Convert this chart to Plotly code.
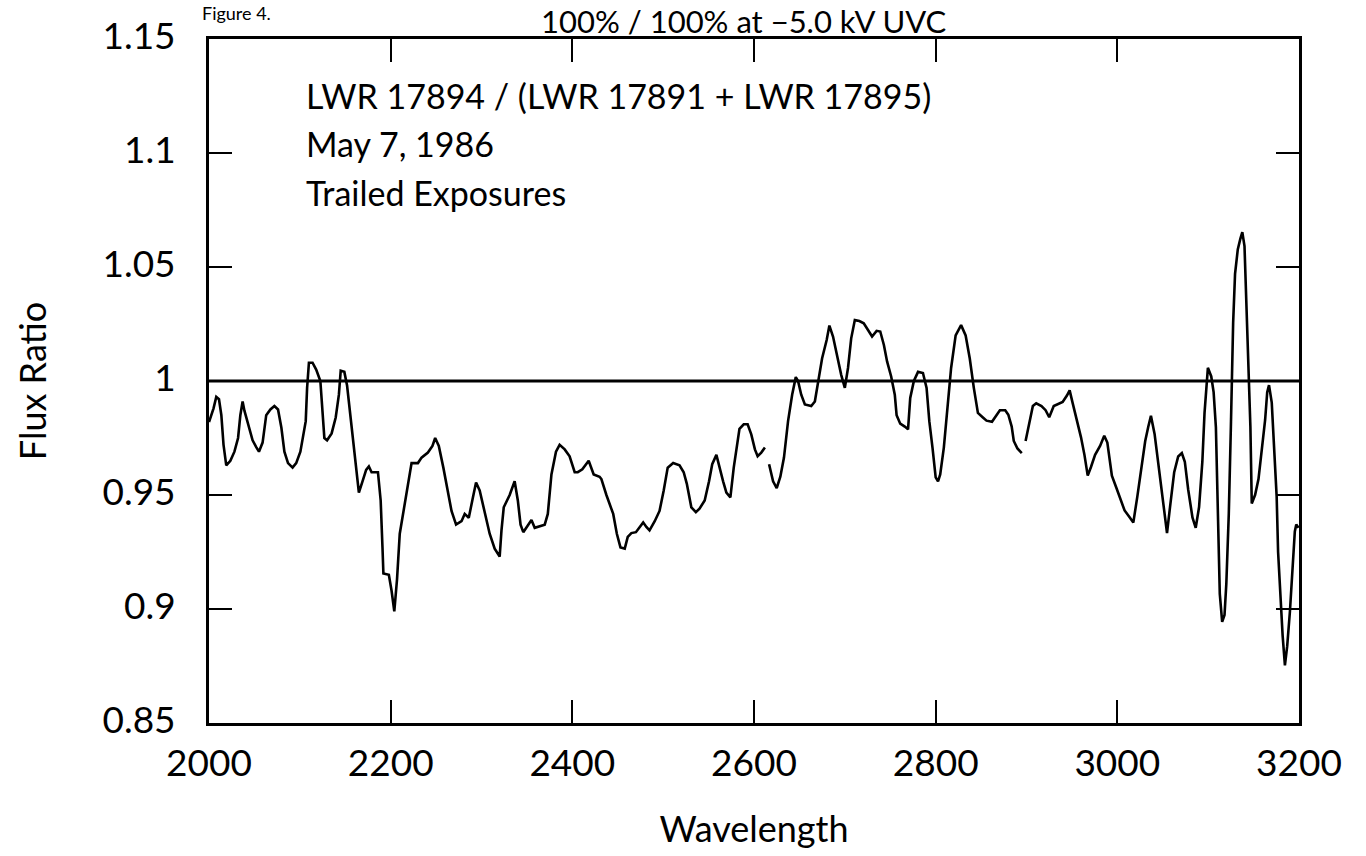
import plotly.graph_objects as go

# ---------------- data ----------------
wavelength = [
    2000, 2005, 2008, 2011, 2013.6, 2016, 2019, 2023.5, 2028, 2032, 2034.5, 2037, 2039, 2043, 2048,
    2052, 2055, 2059, 2063, 2067.6, 2072, 2076, 2079.7, 2083, 2087, 2092, 2096, 2100.6, 2104, 2106.5,
    2108, 2110, 2114, 2118, 2122.6, 2125, 2127, 2130, 2135, 2139.5, 2143, 2145, 2149, 2152, 2155.7,
    2159, 2162, 2165, 2169, 2173, 2176, 2179, 2186, 2189, 2191, 2192, 2198, 2201, 2204, 2207,
    2210, 2214, 2219, 2223, 2230, 2234, 2241, 2246, 2249, 2253, 2258, 2262, 2267, 2272, 2278,
    2281.5, 2286, 2290.6, 2294, 2298, 2303.5, 2309, 2314.5, 2320, 2322, 2324.5, 2331, 2336.5, 2340, 2343,
    2346, 2351, 2355, 2358.6, 2369.6, 2373, 2377, 2382, 2386, 2391.6, 2397, 2402.6, 2406, 2411, 2418,
    2423.5, 2430, 2432, 2437.5, 2445, 2449, 2453, 2457.7, 2461, 2465, 2470, 2474, 2478, 2481.5, 2485,
    2490.7, 2496, 2500.6, 2505, 2511, 2518, 2522.6, 2526, 2531, 2536, 2540, 2545.7, 2550.5, 2554, 2558.6,
    2562, 2566, 2569.6, 2574, 2577.7, 2580.6, 2584, 2588.7, 2593, 2597, 2601, 2604, 2608, 2612, 2614,
    2616.6, 2621, 2625, 2629, 2633, 2637.5, 2642, 2646, 2648.5, 2652, 2656, 2663, 2667, 2670.5, 2675,
    2680, 2683, 2687, 2691, 2696, 2700, 2703.5, 2707, 2711, 2716, 2720.8, 2725.5, 2730, 2735, 2739,
    2743, 2746.5, 2751, 2755, 2757, 2761, 2766, 2769.6, 2772, 2776, 2780.6, 2786, 2790, 2793, 2796.5,
    2800, 2802.6, 2805, 2809, 2813.6, 2817, 2822, 2828, 2833, 2837.5, 2842, 2846.5, 2852, 2856, 2862,
    2866, 2870.7, 2876.6, 2880, 2883.7, 2886, 2890, 2894.8, 2897, 2899, 2902.7, 2907, 2910.7, 2916.5, 2921,
    2925, 2930, 2934.7, 2939.8, 2944.5, 2947.5, 2950.7, 2955.4, 2960, 2963.8, 2967.4, 2971, 2975.5, 2981, 2985.6,
    2989, 2994, 2999, 3003.7, 3008, 3013.5, 3017.6, 3022, 3026, 3030.7, 3034, 3037, 3041, 3045, 3050,
    3054.7, 3058, 3062.6, 3067, 3071, 3074.3, 3078, 3082.7, 3086.3, 3090, 3093.6, 3096, 3099.7, 3103.4, 3106,
    3108.5, 3110.7, 3112.8, 3115.4, 3118, 3120, 3122.7, 3125, 3127.5, 3129.6, 3132.6, 3135.4, 3137.6, 3140, 3142,
    3144.6, 3146.5, 3148, 3151.7, 3155.4, 3159, 3162.7, 3165, 3167, 3170, 3172.5, 3175.4, 3177, 3179.8, 3182,
    3184.5, 3187, 3190, 3192.8, 3195.4, 3197, 3199.5,
]
flux_ratio = [
    0.982, 0.988, 0.993, 0.992, 0.985, 0.972, 0.963, 0.965, 0.969, 0.975, 0.985, 0.991, 0.987, 0.981, 0.974,
    0.971, 0.969, 0.973, 0.985, 0.9875, 0.989, 0.9875, 0.9795, 0.969, 0.964, 0.962, 0.964, 0.969, 0.9766, 0.9824,
    0.997, 1.008, 1.008, 1.005, 1.0, 0.988, 0.975, 0.974, 0.977, 0.984, 0.994, 1.0045, 1.004, 0.998, 0.985,
    0.974, 0.962, 0.951, 0.956, 0.961, 0.9625, 0.960, 0.960, 0.9476, 0.927, 0.9156, 0.915, 0.908, 0.899, 0.913,
    0.933, 0.943, 0.956, 0.964, 0.964, 0.9664, 0.9686, 0.9715, 0.975, 0.9715, 0.962, 0.953, 0.943, 0.937, 0.9385,
    0.9417, 0.940, 0.949, 0.9555, 0.952, 0.943, 0.933, 0.9265, 0.923, 0.9345, 0.9446, 0.950, 0.956, 0.9476, 0.937,
    0.9337, 0.937, 0.939, 0.9356, 0.937, 0.9417, 0.959, 0.969, 0.972, 0.970, 0.967, 0.960, 0.960, 0.9613, 0.965,
    0.959, 0.958, 0.957, 0.950, 0.9417, 0.933, 0.927, 0.9265, 0.9316, 0.9333, 0.9337, 0.936, 0.938, 0.936, 0.9345,
    0.9385, 0.943, 0.952, 0.962, 0.964, 0.963, 0.960, 0.955, 0.9446, 0.9425, 0.944, 0.9476, 0.956, 0.9635, 0.9676,
    0.962, 0.956, 0.951, 0.949, 0.962, 0.9708, 0.979, 0.981, 0.981, 0.9766, 0.970, 0.967, 0.9686, 0.9708, None,
    0.9635, 0.956, 0.953, 0.958, 0.9664, 0.9824, 0.994, 1.0017, 1.0, 0.994, 0.9897, 0.989, 0.991, 1.0, 1.010,
    1.018, 1.0243, 1.0195, 1.0115, 1.0027, 0.997, 1.0057, 1.0187, 1.0267, 1.0263, 1.0253, 1.0224, 1.0195, 1.022, 1.0217,
    1.0158, 1.0086, 1.002, 0.994, 0.985, 0.9813, 0.980, 0.9788, 0.9926, 1.0, 1.004, 1.0035, 0.997, 0.9824, 0.9708,
    0.9577, 0.956, 0.959, 0.9708, 0.9897, 1.0057, 1.020, 1.0245, 1.020, 1.010, 0.997, 0.986, 0.984, 0.9826, 0.9821,
    0.9844, 0.9872, 0.9872, 0.9852, 0.980, 0.9737, 0.9704, 0.9684, None, 0.9737, 0.9814, 0.989, 0.9902, 0.989, 0.9872,
    0.9841, 0.989, 0.9898, 0.9908, 0.9936, 0.9959, 0.9905, 0.983, 0.9753, 0.9676, 0.9585, 0.9623, 0.9676, 0.9715, 0.976,
    0.973, 0.9585, 0.9531, 0.9478, 0.9432, 0.9402, 0.9379, 0.9493, 0.9615, 0.9737, 0.9798, 0.9847, 0.9768, 0.9646, 0.9493,
    0.9333, 0.9447, 0.960, 0.9669, 0.9684, 0.9646, 0.9524, 0.9402, 0.9356, 0.9447, 0.9646, 0.986, 1.0058, 1.002, 0.9951,
    0.9798, 0.9417, 0.9066, 0.8944, 0.8974, 0.9111, 0.9417, 0.9798, 1.0256, 1.047, 1.0577, 1.0623, 1.0653, 1.0592, 1.0333,
    1.0058, 0.9798, 0.9463, 0.9501, 0.957, 0.9692, 0.9829, 0.9951, 0.9982, 0.9905, 0.9722, 0.9493, 0.9249, 0.9035, 0.8882,
    0.8753, 0.8837, 0.8989, 0.9188, 0.934, 0.9371, 0.9356,
]

x_range = [2000, 3200]
y_range = [0.85, 1.15]
x_ticks = [2000, 2200, 2400, 2600, 2800, 3000, 3200]
y_ticks = [0.85, 0.9, 0.95, 1.0, 1.05, 1.1, 1.15]
y_tick_text = ["0.85", "0.9", "0.95", "1", "1.05", "1.1", "1.15"]
reference_level = 1.0

title_text = "100% / 100% at \u22125.0 kV UVC"
figure_label = "Figure 4."
note_lines = ["LWR 17894 / (LWR 17891 + LWR 17895)", "May 7, 1986", "Trailed Exposures"]

FONT = "Lato, 'DejaVu Sans', sans-serif"

fig = go.Figure()
fig.add_trace(go.Scatter(
    x=wavelength, y=flux_ratio, mode="lines",
    line=dict(color="black", width=2.6),
    connectgaps=False, hoverinfo="skip", showlegend=False,
))
fig.add_hline(y=reference_level, line=dict(color="black", width=3))

axis_common = dict(
    showline=True, linecolor="black", linewidth=3, mirror="ticks",
    ticks="inside", ticklen=23, tickwidth=2, tickcolor="black",
    showgrid=False, zeroline=False,
    tickfont=dict(family=FONT, size=37, color="black"),
)
fig.update_xaxes(
    range=x_range, tickvals=x_ticks, ticklabelstandoff=6,
    title=dict(text="Wavelength", font=dict(family=FONT, size=36, color="black"), standoff=34),
    **axis_common,
)
fig.update_yaxes(
    range=y_range, tickvals=y_ticks, ticktext=y_tick_text, ticklabelstandoff=23,
    ticklabelshift=-3,
    title=dict(text="Flux Ratio", font=dict(family=FONT, size=36, color="black"), standoff=45),
    **axis_common,
)

# notes inside the plot
for i, line in enumerate(note_lines):
    fig.add_annotation(
        xref="x", yref="paper", x=2105, y=0.917 - i * 0.0705,
        text=line, showarrow=False, xanchor="left", yanchor="middle",
        font=dict(family=FONT, size=34, color="black"),
    )

# page title above the plot
fig.add_annotation(
    xref="paper", yref="paper", x=0.4905, y=1.0566, text=title_text, showarrow=False,
    xanchor="center", yanchor="top", font=dict(family=FONT, size=31, color="black"),
)
fig.add_annotation(
    xref="paper", yref="paper", x=-0.008, y=1.0566, text=figure_label, showarrow=False,
    xanchor="left", yanchor="top", font=dict(family=FONT, size=18, color="black"),
)

fig.update_layout(
    width=1366, height=856,
    margin=dict(l=209, r=67, t=39, b=127),
    paper_bgcolor="white", plot_bgcolor="white",
    font=dict(family=FONT, color="black"),
)

fig.write_html("out.html", include_plotlyjs=True, config={"displayModeBar": False})
